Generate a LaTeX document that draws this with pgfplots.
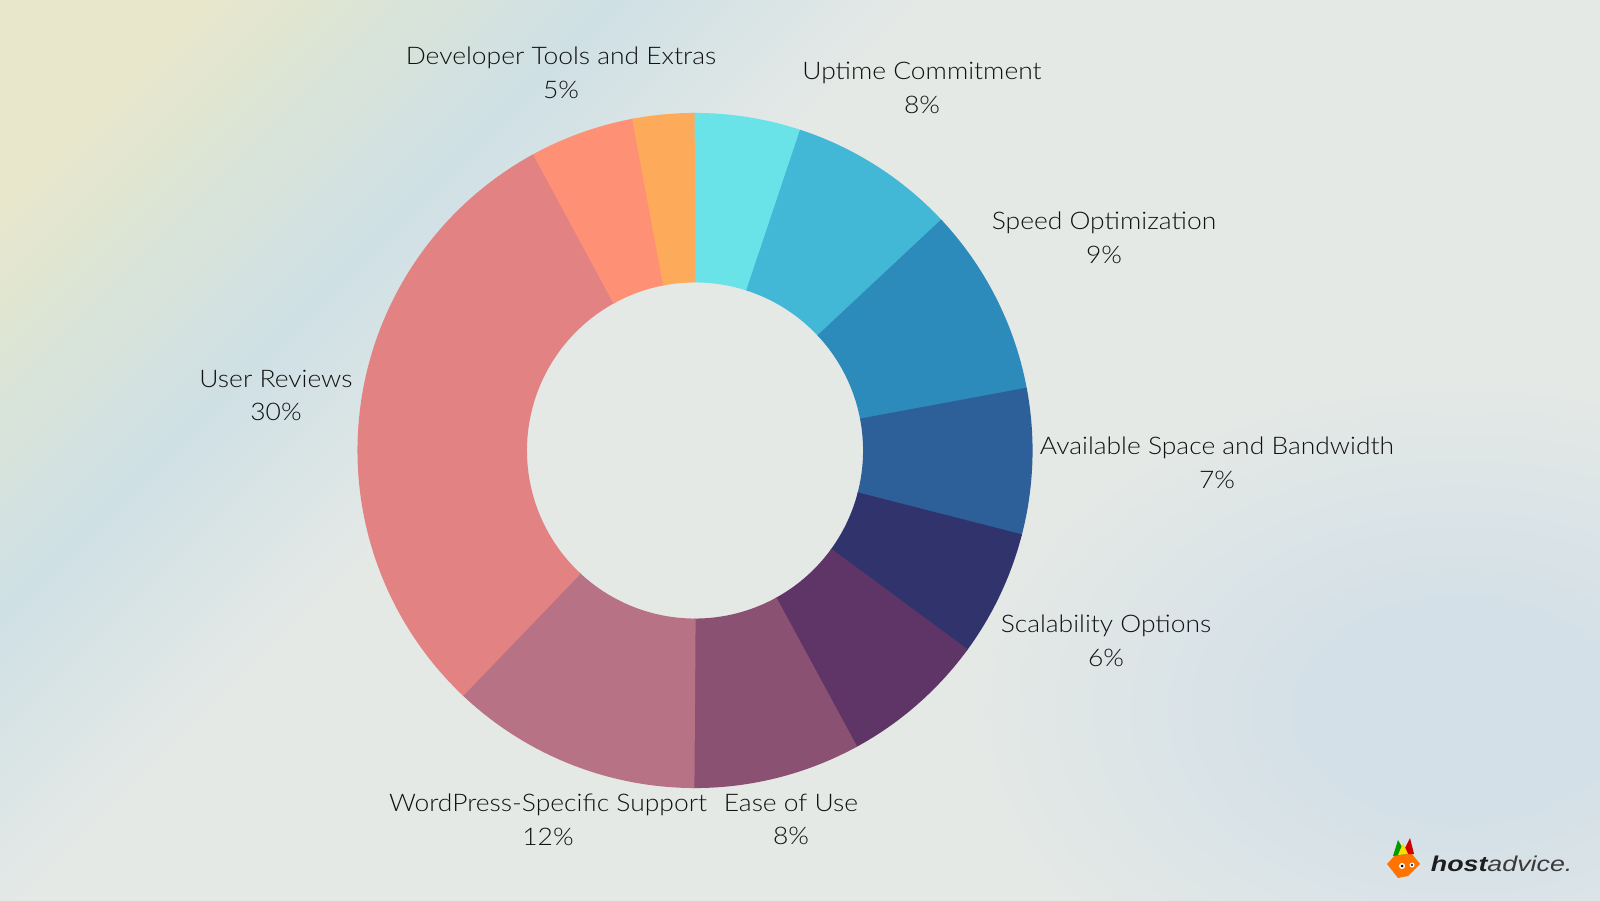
\documentclass[border=0pt]{standalone}
\usepackage{pgfplots}
\pgfplotsset{compat=1.18}
\usepackage{pgfplotstable}
\usepackage{fontspec}
\IfFontExistsTF{Lato Light}{\setmainfont{Lato Light}[FakeStretch=1.09]}{\setmainfont{Lato}[FakeStretch=1.09]}
\newfontfamily\logofont{Liberation Sans}

\definecolor{sc1}{HTML}{6AE3E8}
\definecolor{sc2}{HTML}{42B7D6}
\definecolor{sc3}{HTML}{2D8BBB}
\definecolor{sc4}{HTML}{2D5F99}
\definecolor{sc5}{HTML}{31346C}
\definecolor{sc6}{HTML}{5E3566}
\definecolor{sc7}{HTML}{8A5172}
\definecolor{sc8}{HTML}{B87286}
\definecolor{sc9}{HTML}{E28283}
\definecolor{sc10}{HTML}{FE9076}
\definecolor{sc11}{HTML}{FEAA5B}
\definecolor{txt}{HTML}{111111}

\definecolor{bgY}{HTML}{E9E7CB}
\definecolor{bgG}{HTML}{D9E4D8}
\definecolor{bgB}{HTML}{CFE0E5}
\definecolor{bgGrey}{HTML}{E5E9E6}
\definecolor{bgBR}{HTML}{D4E0E7}

\pgfdeclarehorizontalshading{bgshade}{100bp}{color(0bp)=(bgY); color(15bp)=(bgY); color(20bp)=(bgY); color(26bp)=(bgG); color(32bp)=(bgB); color(41bp)=(bgGrey); color(100bp)=(bgGrey)}
\pgfdeclareradialshading{blob}{\pgfpoint{0bp}{0bp}}{color(0bp)=(bgBR); color(8bp)=(bgBR); color(25bp)=(bgGrey); color(50bp)=(bgGrey)}

% clockwise from 12 o'clock
\pgfplotstableread{
key pct col
Unlabelled 5 sc1
Uptime 8 sc2
Speed 9 sc3
Space 7 sc4
Scalability 6 sc5
Unlabelled 7 sc6
Ease 8 sc7
WordPress 12 sc8
Reviews 30 sc9
DevTools 5 sc10
Unlabelled 3 sc11
}\slices

\newcommand\lbl{\fontsize{6.9}{8}\selectfont}

\begin{document}
\begin{tikzpicture}
\begin{scope}
\clip (0,0) rectangle (16,9);
\shade[shading=bgshade, shading angle=-45] (0,0) rectangle (16,9);
\shade[shading=blob] (14.6,1.9) ellipse [x radius=5cm, y radius=3.4cm];
\end{scope}
\begin{axis}[at={(0,0)}, anchor=south west, x=1cm, y=1cm,
  xmin=0, xmax=16, ymin=0, ymax=9, hide axis, clip=false]
\def\sCum{0}
\pgfplotsforeachungrouped \sIdx in {0,...,10}{%
  \pgfplotstablegetelem{\sIdx}{pct}\of\slices \let\sPct\pgfplotsretval
  \pgfplotstablegetelem{\sIdx}{col}\of\slices \let\sCol\pgfplotsretval
  \ifnum\sIdx=0
    \def\sA{90.5}%
  \else
    \pgfmathsetmacro\sA{90-3.6*\sCum}%
  \fi
  \ifnum\sIdx<10
    \pgfmathsetmacro\sB{90-3.6*(\sCum+\sPct)-0.4}%
  \else
    \pgfmathsetmacro\sB{90-3.6*(\sCum+\sPct)}%
  \fi
  \pgfmathsetmacro\sCum{\sCum+\sPct}%
  \edef\sTemp{\noexpand\addplot[draw=\sCol, mark=none, line width=1.695cm, line cap=butt, domain=\sB:\sA, samples=90] ({6.95+2.528*cos(x)},{4.495+2.528*sin(x)});}%
  \sTemp
}
\begin{scope}[txt, font=\lbl]
\node[anchor=base] at (axis cs:5.61,8.35) {Developer Tools and Extras};
\node[anchor=base] at (axis cs:5.61,8.01) {5\%};
\node[anchor=base] at (axis cs:9.22,8.20) {Uptime Commitment};
\node[anchor=base] at (axis cs:9.22,7.86) {8\%};
\node[anchor=base] at (axis cs:11.04,6.70) {Speed Optimization};
\node[anchor=base] at (axis cs:11.04,6.36) {9\%};
\node[anchor=base] at (axis cs:12.17,4.455) {Available Space and Bandwidth};
\node[anchor=base] at (axis cs:12.17,4.115) {7\%};
\node[anchor=base] at (axis cs:11.06,2.68) {Scalability Options};
\node[anchor=base] at (axis cs:11.06,2.34) {6\%};
\node[anchor=base] at (axis cs:7.91,0.885) {Ease of Use};
\node[anchor=base] at (axis cs:7.91,0.555) {8\%};
\node[anchor=base] at (axis cs:5.48,0.885) {WordPress-Specific Support};
\node[anchor=base] at (axis cs:5.48,0.55) {12\%};
\node[anchor=base] at (axis cs:2.76,5.12) {User Reviews};
\node[anchor=base] at (axis cs:2.76,4.79) {30\%};
\end{scope}
\end{axis}
% logo
\fill[orange!90!red] (13.87,0.36) -- (13.97,0.47) -- (14.12,0.46) -- (14.2,0.36) -- (14.08,0.24) -- (13.98,0.22) -- cycle;
\fill[red!80!black] (14.02,0.46) -- (14.1,0.62) -- (14.14,0.46) -- cycle;
\fill[green!60!black] (13.93,0.44) -- (13.98,0.6) -- (14.06,0.46) -- cycle;
\fill[yellow!80!orange] (13.98,0.45) -- (14.03,0.57) -- (14.08,0.46) -- cycle;
\fill[white] (14.02,0.34) circle (0.03);
\fill[black] (14.02,0.34) circle (0.015);
\fill[white] (14.12,0.35) circle (0.025);
\fill[black] (14.12,0.35) circle (0.012);
\node[anchor=base west, inner sep=0, xscale=1.25] at (14.30,0.29)
  {\logofont\fontsize{6.1}{7}\selectfont\itshape\textcolor[HTML]{1E1E1E}{\bfseries host}\textcolor[HTML]{3A3A3A}{advice.}};
\end{tikzpicture}
\end{document}
